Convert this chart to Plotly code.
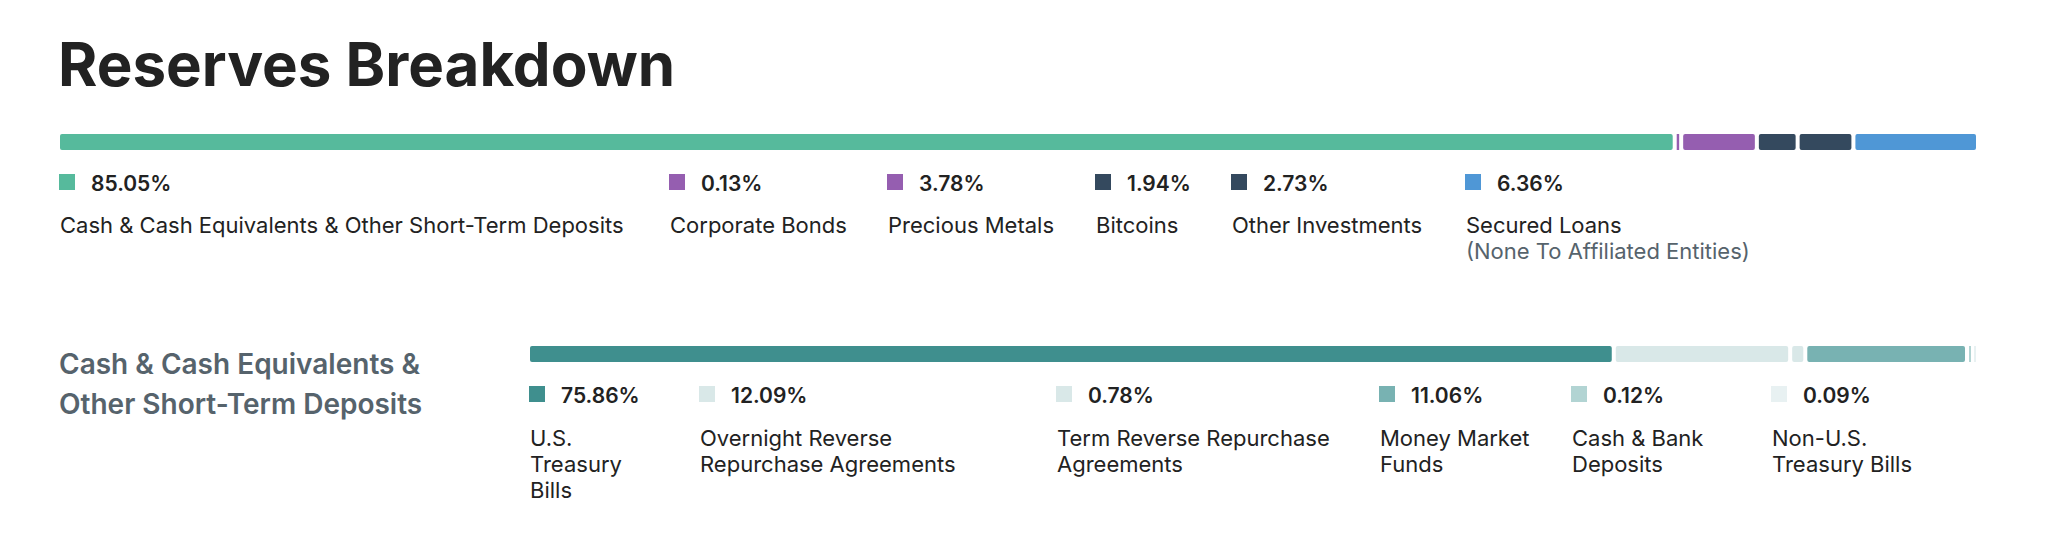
import plotly.graph_objects as go

# ---------------- data ----------------
TITLE = "Reserves Breakdown"

TOP_LABELS = [
    "Cash & Cash Equivalents & Other Short-Term Deposits",
    "Corporate Bonds",
    "Precious Metals",
    "Bitcoins",
    "Other Investments",
    "Secured Loans",
]
TOP_SUBLABELS = ["", "", "", "", "", "(None To Affiliated Entities)"]
TOP_VALUES = [85.05, 0.13, 3.78, 1.94, 2.73, 6.36]

SUB_TITLE_LINES = ["Cash & Cash Equivalents &", "Other Short-Term Deposits"]
SUB_LABELS = [
    "U.S.<br>Treasury<br>Bills",
    "Overnight Reverse<br>Repurchase Agreements",
    "Term Reverse Repurchase<br>Agreements",
    "Money Market<br>Funds",
    "Cash & Bank<br>Deposits",
    "Non-U.S.<br>Treasury Bills",
]
SUB_VALUES = [75.86, 12.09, 0.78, 11.06, 0.12, 0.09]

# ---------------- style ----------------
TOP_COLORS = ["#56BA9C", "#955EB0", "#955EB0", "#34495E", "#34495E", "#4F97D6"]
SUB_COLORS = ["#3F8F8E", "#D9E8E8", "#D9E8E8", "#78B2B2", "#B2D4D3", "#E8F1F2"]

W, H = 2052, 542          # browser window
PAGE_MARGIN = 8           # default body margin of the html page
FW, FH = W - 2 * PAGE_MARGIN, H - 2 * PAGE_MARGIN
FONT = "Inter"
TEXT = "#222222"
GREY = "#56636C"
GAP_PX = 4

# layout positions in screen pixels
TOP_BAR_X = (60, 1976)
TOP_BAR_Y = (134, 150)
SUB_BAR_X = (530, 1976)
SUB_BAR_Y = (346, 362)
TOP_LEG_X = [59, 669, 887, 1095, 1231, 1465]
SUB_LEG_X = [529, 699, 1056, 1379, 1571, 1771]


def px(x):
    return (x - PAGE_MARGIN) / FW


def py(y):
    return 1 - (y - PAGE_MARGIN) / FH


fig = go.Figure()
annotations = []
shapes = []


def add_bar(values, colors, xa, ya, bar_x):
    total = sum(values)
    n_gaps = len(values) - 1
    avail = (bar_x[1] - bar_x[0]) - n_gaps * GAP_PX
    gap = GAP_PX * total / avail
    start = 0.0
    for v, c in zip(values, colors):
        wide = v * avail / total > 8
        fig.add_trace(go.Bar(
            orientation="h", y=[0], x=[v], base=[start], width=1,
            marker=dict(color=c, line=dict(width=0), cornerradius=2 if wide else 0),
            xaxis=xa, yaxis=ya, hoverinfo="skip", showlegend=False,
        ))
        start += v + gap
    return start - gap


top_end = add_bar(TOP_VALUES, TOP_COLORS, "x", "y", TOP_BAR_X)
sub_end = add_bar(SUB_VALUES, SUB_COLORS, "x2", "y2", SUB_BAR_X)


def ann(x, y, text, size, color=TEXT, weight=400):
    annotations.append(dict(
        x=px(x), y=py(y), xref="paper", yref="paper", text=text,
        showarrow=False, xanchor="left", yanchor="middle", borderpad=0,
        font=dict(family=FONT, size=size, color=color, weight=weight),
    ))


def swatch(x, y0, color):
    shapes.append(dict(
        type="rect", xref="paper", yref="paper",
        x0=px(x), x1=px(x + 16), y0=py(y0), y1=py(y0 + 16),
        fillcolor=color, line=dict(width=0),
    ))


# title
ann(57, 64.5, TITLE, 60, TEXT, 700)

# top legend
for lx, lab, sub, v, c in zip(TOP_LEG_X, TOP_LABELS, TOP_SUBLABELS, TOP_VALUES, TOP_COLORS):
    swatch(lx, 174, c)
    ann(lx + 31, 183, f"{v:.2f}%", 21, TEXT, 600)
    ann(lx, 225.5, lab, 22, TEXT, 400)
    if sub:
        ann(lx, 251, sub, 22, GREY, 400)

# section title
for i, line in enumerate(SUB_TITLE_LINES):
    ann(58, 363.5 + 40 * i, line, 28, GREY, 600)

# sub legend
for lx, lab, v, c in zip(SUB_LEG_X, SUB_LABELS, SUB_VALUES, SUB_COLORS):
    swatch(lx, 386, c)
    ann(lx + 31, 395, f"{v:.2f}%", 21, TEXT, 600)
    for i, line in enumerate(lab.split("<br>")):
        ann(lx, 437.5 + 26 * i, line, 22, TEXT, 400)

axis_off = dict(visible=False, showgrid=False, zeroline=False, fixedrange=True)
fig.update_layout(
    width=FW, height=FH,
    margin=dict(l=0, r=0, t=0, b=0),
    paper_bgcolor="white", plot_bgcolor="white",
    barmode="overlay", showlegend=False,
    xaxis=dict(domain=[px(TOP_BAR_X[0]), px(TOP_BAR_X[1])], range=[0, top_end], **axis_off),
    yaxis=dict(domain=[py(TOP_BAR_Y[1]), py(TOP_BAR_Y[0])], range=[-0.5, 0.5], **axis_off),
    xaxis2=dict(domain=[px(SUB_BAR_X[0]), px(SUB_BAR_X[1])], range=[0, sub_end], anchor="y2", **axis_off),
    yaxis2=dict(domain=[py(SUB_BAR_Y[1]), py(SUB_BAR_Y[0])], range=[-0.5, 0.5], anchor="x2", **axis_off),
    annotations=annotations, shapes=shapes,
)

fig.write_html("out.html")
